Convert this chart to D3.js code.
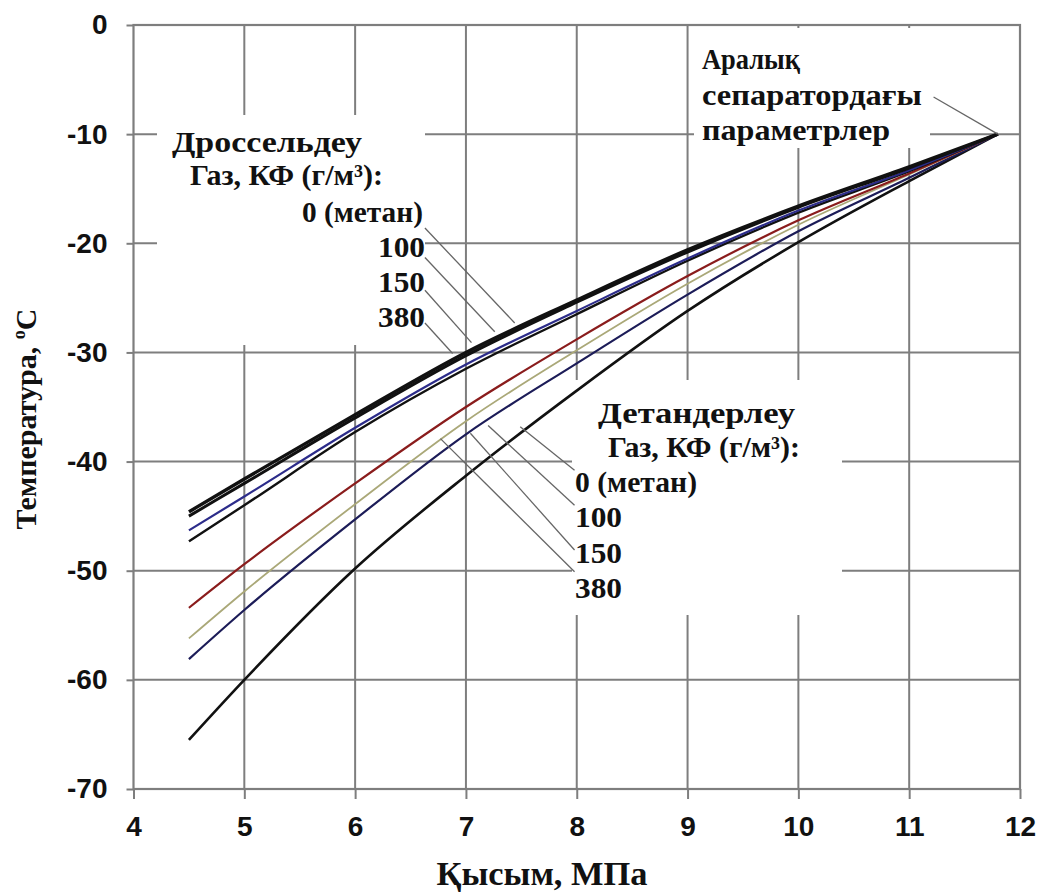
<!DOCTYPE html>
<html>
<head>
<meta charset="utf-8">
<script src="https://cdn.jsdelivr.net/npm/d3@7"></script>
<style>
  body { margin: 0; background: #fff; }
</style>
</head>
<body>
<div id="chart"></div>
<script>
// pressure, MPa
const pressure = [4.5, 5, 6, 7, 8, 9, 10, 11, 11.8];

// throttling (Дроссельдеу), temperature °C
const thr0 = [-44.6, -41.6, -35.7, -30.0, -25.2, -20.6, -16.6, -13.0, -10];
const thr100 = [-45.0, -42.0, -36.0, -30.3, -25.4, -20.8, -16.7, -13.1, -10];
const thr150 = [-46.3, -43.2, -36.9, -31.1, -26.2, -21.4, -17.0, -13.3, -10];
const thr380 = [-47.3, -44.0, -37.3, -31.5, -26.5, -21.6, -17.2, -13.4, -10];

// expansion (Детандерлеу), temperature °C
const exp0 = [-53.4, -49.4, -42.0, -35.0, -28.8, -23.0, -17.9, -13.6, -10];
const exp100 = [-56.2, -51.9, -43.9, -36.3, -29.8, -23.7, -18.3, -13.7, -10];
const exp150 = [-58.1, -53.6, -45.3, -37.5, -31.0, -24.7, -18.9, -14.0, -10];
const exp380 = [-65.5, -60.0, -49.8, -41.3, -33.5, -26.2, -19.9, -14.3, -10];

const xTicks = [4, 5, 6, 7, 8, 9, 10, 11, 12];
const yTicks = [0, -10, -20, -30, -40, -50, -60, -70];

// leader lines, in data units [[p, t], [p, t]]
const leadersTop = [
  [[6.63, -18.6], [7.44, -27.3]],
  [[6.63, -21.3], [7.26, -28.1]],
  [[6.63, -24.3], [7.05, -29.1]],
  [[6.63, -27.3], [6.88, -30.1]]
];
const leadersBottom = [
  [[7.98, -40.8], [7.49, -36.8]],
  [[7.98, -44.0], [7.20, -36.7]],
  [[7.98, -48.1], [7.04, -37.4]],
  [[7.98, -50.1], [6.77, -37.9]]
];
const leaderPoint = [[11.22, -6.6], [11.8, -10]];

const series = [
  { v: exp380, color: '#111', w: 2.6 },
  { v: exp150, color: '#1c1c58', w: 2.2 },
  { v: exp100, color: '#aaa878', w: 1.8 },
  { v: exp0, color: '#8a1c1c', w: 2.2 },
  { v: thr380, color: '#111', w: 2.4 },
  { v: thr150, color: '#2c2c8a', w: 2.2 },
  { v: thr100, color: '#111', w: 3 },
  { v: thr0, color: '#111', w: 3.4 }
];

const W = 1038, H = 892;
const serif = '"Liberation Serif", "Times New Roman", "DejaVu Serif", serif';
const sans = '"Liberation Sans", Arial, sans-serif';

const svg = d3.select('#chart').append('svg')
  .attr('width', W).attr('height', H)
  .style('background', '#fff');

const x = d3.scaleLinear().domain([4, 12]).range([133.5, 1020]);
const y = d3.scaleLinear().domain([-70, 0]).range([789, 25]);

const gridColor = '#7e7e7e';

// grid
svg.append('g').selectAll('line').data(xTicks.slice(1, -1)).enter().append('line')
  .attr('x1', d => x(d)).attr('x2', d => x(d))
  .attr('y1', y(0)).attr('y2', y(-70))
  .attr('stroke', gridColor).attr('stroke-width', 2);
svg.append('g').selectAll('line').data(yTicks.slice(1, -1)).enter().append('line')
  .attr('x1', x(4)).attr('x2', x(12))
  .attr('y1', d => y(d)).attr('y2', d => y(d))
  .attr('stroke', gridColor).attr('stroke-width', 2);

// axes
const yAxis = svg.append('g').attr('transform', `translate(${x(4)},0)`)
  .call(d3.axisLeft(y).tickValues(yTicks).tickSize(7).tickPadding(19).tickFormat(d => String(d)));
const xAxis = svg.append('g').attr('transform', `translate(0,${y(-70)})`)
  .call(d3.axisBottom(x).tickValues(xTicks).tickSize(10).tickPadding(17).tickFormat(d => String(d)));
[yAxis, xAxis].forEach(a => {
  a.select('.domain').remove();
  a.selectAll('line').attr('stroke', gridColor).attr('stroke-width', 2);
  a.selectAll('text').attr('fill', '#111')
    .style('font-family', sans).style('font-size', '28px').style('font-weight', 'bold');
});

// frame
svg.append('rect')
  .attr('x', x(4)).attr('y', y(0))
  .attr('width', x(12) - x(4)).attr('height', y(-70) - y(0))
  .attr('fill', 'none').attr('stroke', gridColor).attr('stroke-width', 2.2);

// white label backgrounds hiding the grid
const boxes = [
  { x0: 157, y0: 115, x1: 425, y1: 345 },
  { x0: 572, y0: 380, x1: 842, y1: 615 },
  { x0: 694, y0: 28, x1: 930, y1: 148 }
];
svg.append('g').selectAll('rect').data(boxes).enter().append('rect')
  .attr('x', d => d.x0).attr('y', d => d.y0)
  .attr('width', d => d.x1 - d.x0).attr('height', d => d.y1 - d.y0)
  .attr('fill', '#fff');

// curves
const line = d3.line()
  .x((d, i) => x(pressure[i]))
  .y(d => y(d))
  .curve(d3.curveMonotoneX);
svg.append('g').selectAll('path').data(series).enter().append('path')
  .attr('d', d => line(d.v))
  .attr('fill', 'none')
  .attr('stroke', d => d.color)
  .attr('stroke-width', d => d.w);

// leader lines
const leaders = leadersTop.concat(leadersBottom, [leaderPoint]);
svg.append('g').selectAll('line').data(leaders).enter().append('line')
  .attr('x1', d => x(d[0][0])).attr('y1', d => y(d[0][1]))
  .attr('x2', d => x(d[1][0])).attr('y2', d => y(d[1][1]))
  .attr('stroke', '#666').attr('stroke-width', 1.3);

// annotation text
const notes = [
  { t: 'Дроссельдеу', x: 172, y: 152, w: 190, a: 'start' },
  { t: 'Газ, КФ (г/м³):', x: 190, y: 185, w: 193, a: 'start' },
  { t: '0 (метан)', x: 423, y: 222, w: 121, a: 'end' },
  { t: '100', x: 425, y: 257, w: 47, a: 'end' },
  { t: '150', x: 425, y: 292, w: 47, a: 'end' },
  { t: '380', x: 425, y: 327, w: 47, a: 'end' },
  { t: 'Детандерлеу', x: 598, y: 423, w: 197, a: 'start' },
  { t: 'Газ, КФ (г/м³):', x: 608, y: 457, w: 192, a: 'start' },
  { t: '0 (метан)', x: 575, y: 492, w: 122, a: 'start' },
  { t: '100', x: 575, y: 527, w: 47, a: 'start' },
  { t: '150', x: 575, y: 563, w: 47, a: 'start' },
  { t: '380', x: 575, y: 598, w: 47, a: 'start' },
  { t: 'Аралық', x: 702, y: 69, w: 98, a: 'start' },
  { t: 'сепаратордағы', x: 702, y: 105, w: 220, a: 'start' },
  { t: 'параметрлер', x: 702, y: 140, w: 188, a: 'start' }
];
svg.append('g').selectAll('text').data(notes).enter().append('text')
  .attr('x', d => d.x).attr('y', d => d.y)
  .attr('text-anchor', d => d.a)
  .attr('textLength', d => d.w).attr('lengthAdjust', 'spacingAndGlyphs')
  .style('font-family', serif).style('font-size', '30px').style('font-weight', 'bold')
  .attr('fill', '#111')
  .text(d => d.t);

// axis titles
svg.append('text')
  .attr('x', 542).attr('y', 885)
  .attr('text-anchor', 'middle')
  .attr('textLength', 211).attr('lengthAdjust', 'spacingAndGlyphs')
  .style('font-family', serif).style('font-size', '33px').style('font-weight', 'bold')
  .attr('fill', '#111')
  .text('Қысым, МПа');

const yTitle = svg.append('text')
  .attr('transform', 'translate(36,419) rotate(-90)')
  .attr('text-anchor', 'middle')
  .style('font-family', serif).style('font-size', '30px').style('font-weight', 'bold')
  .attr('fill', '#111');
yTitle.append('tspan').text('Температура,  ');
yTitle.append('tspan').attr('dy', -11).style('font-size', '18px').text('o');
yTitle.append('tspan').attr('dy', 11).text('С');
</script>
</body>
</html>
